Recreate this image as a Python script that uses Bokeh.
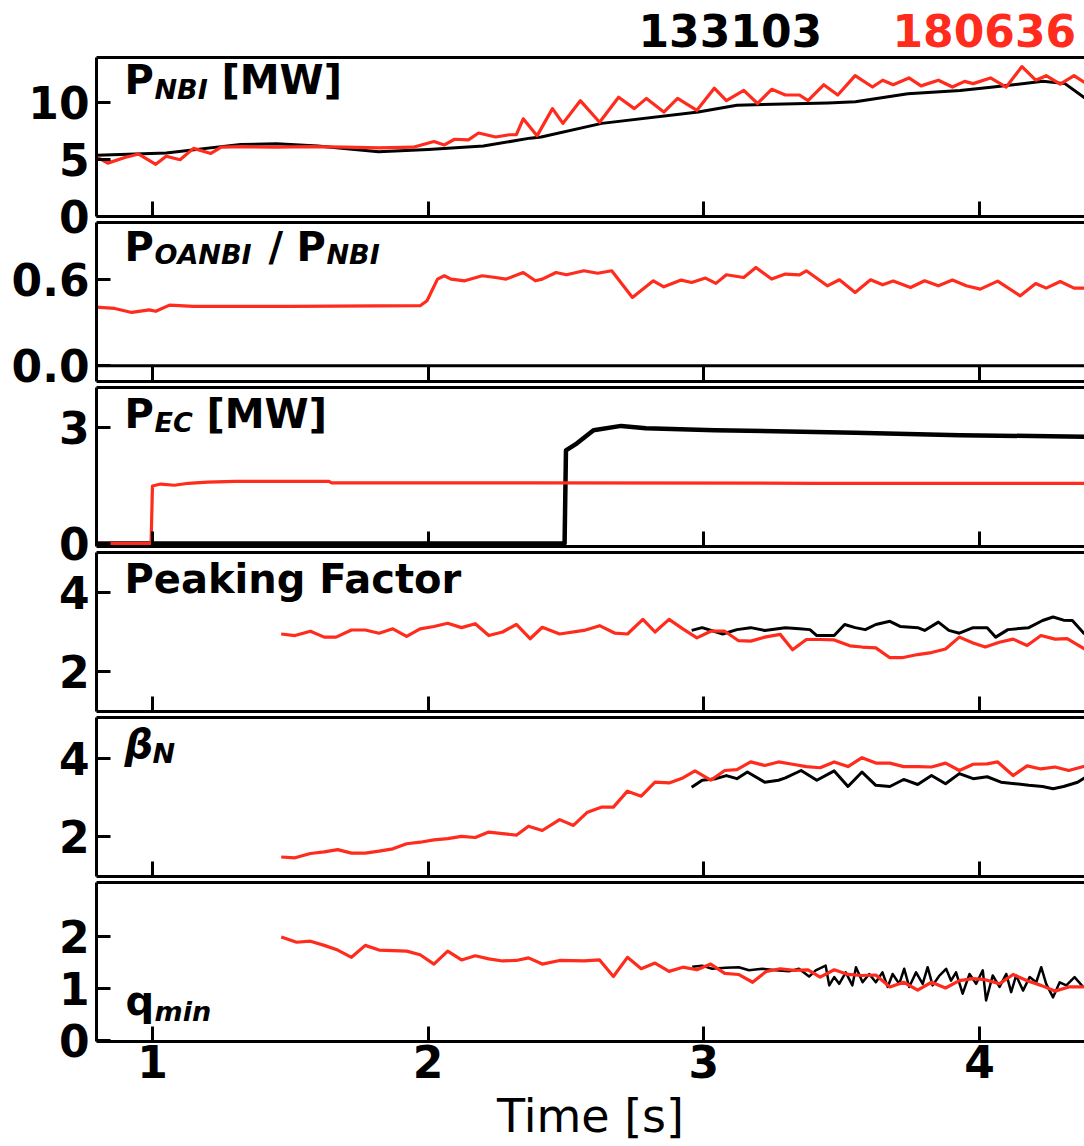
from bokeh.plotting import figure
from bokeh.layouts import column
from bokeh.models import Range1d, LinearAxis, FixedTicker, PrintfTickFormatter, Label, CustomLabelingPolicy
from bokeh.embed import file_html
from bokeh.resources import INLINE

# ---------------- data ----------------
shot_black = "133103"
shot_red = "180636"
x_ticks = [1, 2, 3, 4]

# P_NBI [MW]
nbi_t_133103 = [0.80, 1.05, 1.32, 1.45, 1.60, 1.82, 2.00, 2.20, 2.37, 2.41, 2.63, 2.98, 3.12,
                3.45, 3.55, 3.74, 3.93, 4.05, 4.23, 4.31, 4.39]
nbi_v_133103 = [5.4, 5.6, 6.35, 6.4, 6.2, 5.7, 5.9, 6.2, 6.9, 7.0, 8.2, 9.2, 9.8,
                10.0, 10.1, 10.8, 11.1, 11.4, 11.9, 11.7, 10.3]
nbi_t_180636 = [0.80, 0.838, 0.900, 0.950, 1.012, 1.050, 1.100, 1.149, 1.212, 1.249, 1.324, 1.448,
                1.573, 1.697, 1.822, 1.946, 2.021, 2.059, 2.096, 2.146, 2.183, 2.245, 2.295, 2.320,
                2.345, 2.395, 2.451, 2.489, 2.552, 2.622, 2.691, 2.748, 2.792, 2.855, 2.905, 2.975,
                3.038, 3.082, 3.145, 3.195, 3.246, 3.296, 3.347, 3.378, 3.435, 3.486, 3.549, 3.612,
                3.649, 3.687, 3.744, 3.788, 3.851, 3.902, 3.946, 3.977, 4.040, 4.097, 4.154, 4.204,
                4.242, 4.293, 4.343, 4.381]
nbi_v_180636 = [5.2, 4.7, 5.2, 5.5, 4.6, 5.3, 5.0, 6.0, 5.55, 6.1, 6.15, 6.1,
                6.15, 6.1, 6.05, 6.1, 6.6, 6.3, 6.8, 6.75, 7.35, 7.0, 7.2, 7.2,
                8.6, 7.1, 9.5, 8.2, 10.2, 8.3, 10.5, 9.5, 10.4, 9.2, 10.4, 9.35,
                11.3, 10.2, 11.1, 9.95, 11.2, 10.7, 10.7, 10.2, 11.6, 10.7, 12.4, 11.4,
                12.0, 11.6, 12.2, 11.5, 12.0, 11.4, 11.9, 11.7, 12.2, 11.4, 13.2, 12.0,
                12.4, 11.65, 12.4, 11.8]

# P_OANBI / P_NBI
oa_t_133103 = [0.79, 4.40]
oa_v_133103 = [0.0, 0.0]
oa_t_180636 = [0.79, 0.863, 0.925, 0.988, 1.012, 1.062, 1.149, 1.50, 1.971, 1.996, 2.034, 2.059,
               2.083, 2.133, 2.196, 2.245, 2.283, 2.345, 2.389, 2.414, 2.464, 2.502, 2.565, 2.615,
               2.666, 2.741, 2.817, 2.855, 2.918, 2.956, 3.006, 3.044, 3.082, 3.145, 3.189, 3.246,
               3.296, 3.347, 3.372, 3.448, 3.492, 3.549, 3.605, 3.649, 3.687, 3.750, 3.801, 3.851,
               3.902, 3.952, 4.003, 4.066, 4.148, 4.204, 4.242, 4.293, 4.343, 4.391]
oa_v_180636 = [0.41, 0.40, 0.372, 0.39, 0.38, 0.423, 0.414, 0.414, 0.419, 0.454, 0.605, 0.628,
               0.605, 0.593, 0.628, 0.616, 0.605, 0.651, 0.593, 0.605, 0.651, 0.635, 0.663, 0.646,
               0.663, 0.477, 0.593, 0.551, 0.598, 0.581, 0.612, 0.575, 0.635, 0.616, 0.686, 0.605,
               0.640, 0.635, 0.663, 0.558, 0.600, 0.512, 0.600, 0.565, 0.591, 0.546, 0.593, 0.558,
               0.598, 0.558, 0.535, 0.591, 0.488, 0.574, 0.542, 0.588, 0.542, 0.542]

# P_EC [MW]
ec_t_133103 = [0.79, 2.495, 2.50, 2.54, 2.60, 2.70, 2.79, 3.04, 3.55, 3.93, 4.40]
ec_v_133103 = [0.0, 0.0, 2.40, 2.58, 2.92, 3.03, 2.97, 2.92, 2.85, 2.79, 2.75]
ec_t_180636 = [0.79, 0.995, 1.00, 1.03, 1.08, 1.13, 1.20, 1.30, 1.64, 1.65, 2.40, 3.40, 4.40]
ec_v_180636 = [0.0, 0.0, 1.48, 1.53, 1.50, 1.55, 1.58, 1.60, 1.60, 1.56, 1.56, 1.55, 1.55]

# Peaking factor
pk_t_133103 = [2.956, 2.994, 3.069, 3.120, 3.170, 3.221, 3.296, 3.347, 3.385, 3.410, 3.473, 3.511,
               3.549, 3.586, 3.624, 3.675, 3.712, 3.776, 3.801, 3.851, 3.889, 3.927, 3.977, 4.028,
               4.059, 4.103, 4.179, 4.229, 4.267, 4.305, 4.337, 4.381]
pk_v_133103 = [3.04, 3.11, 2.95, 3.06, 3.11, 3.04, 3.11, 3.08, 3.06, 2.91, 2.91, 3.19,
               3.11, 3.06, 3.19, 3.27, 3.14, 3.11, 3.04, 3.25, 3.04, 2.97, 3.11, 3.11,
               2.87, 3.06, 3.11, 3.29, 3.38, 3.30, 3.29, 2.95]
pk_t_180636 = [1.467, 1.517, 1.573, 1.623, 1.666, 1.722, 1.772, 1.822, 1.872, 1.922, 1.971, 2.021,
               2.071, 2.121, 2.171, 2.220, 2.270, 2.320, 2.370, 2.414, 2.477, 2.565, 2.622, 2.678,
               2.723, 2.779, 2.823, 2.874, 2.924, 2.975, 3.025, 3.076, 3.126, 3.170, 3.221, 3.277,
               3.322, 3.372, 3.422, 3.473, 3.530, 3.574, 3.624, 3.675, 3.719, 3.776, 3.826, 3.877,
               3.927, 3.977, 4.021, 4.072, 4.122, 4.173, 4.223, 4.274, 4.318, 4.391]
pk_v_180636 = [2.95, 2.91, 3.02, 2.87, 2.87, 3.05, 3.05, 2.97, 3.08, 2.89, 3.08, 3.14,
               3.22, 3.11, 3.21, 2.91, 3.00, 3.19, 2.83, 3.12, 2.95, 3.04, 3.16, 2.97,
               2.95, 3.32, 3.00, 3.32, 3.08, 2.85, 3.02, 3.02, 2.78, 2.77, 2.87, 2.94,
               2.55, 2.81, 2.81, 2.80, 2.65, 2.62, 2.60, 2.35, 2.35, 2.43, 2.48, 2.57,
               2.87, 2.72, 2.62, 2.74, 2.82, 2.66, 2.91, 2.82, 2.83, 2.53]

# beta_N
bn_t_133103 = [2.956, 2.994, 3.044, 3.082, 3.120, 3.158, 3.221, 3.271, 3.296, 3.353, 3.410, 3.473,
               3.523, 3.574, 3.624, 3.675, 3.725, 3.776, 3.826, 3.877, 3.927, 3.977, 4.028, 4.078,
               4.129, 4.179, 4.229, 4.267, 4.305, 4.356, 4.391]
bn_v_133103 = [3.26, 3.44, 3.48, 3.56, 3.48, 3.65, 3.39, 3.44, 3.50, 3.69, 3.44, 3.68,
               3.28, 3.65, 3.31, 3.28, 3.46, 3.33, 3.56, 3.35, 3.61, 3.48, 3.53, 3.39,
               3.35, 3.31, 3.28, 3.22, 3.28, 3.39, 3.54]
bn_t_180636 = [1.467, 1.517, 1.573, 1.623, 1.672, 1.722, 1.772, 1.822, 1.872, 1.922, 1.971, 2.021,
               2.071, 2.121, 2.171, 2.220, 2.270, 2.320, 2.364, 2.414, 2.477, 2.527, 2.578, 2.628,
               2.672, 2.723, 2.773, 2.823, 2.874, 2.924, 2.968, 3.025, 3.076, 3.120, 3.170, 3.221,
               3.271, 3.322, 3.372, 3.422, 3.473, 3.523, 3.574, 3.624, 3.675, 3.725, 3.776, 3.826,
               3.877, 3.927, 3.977, 4.028, 4.066, 4.122, 4.173, 4.223, 4.274, 4.324, 4.391]
bn_v_180636 = [1.47, 1.45, 1.56, 1.60, 1.66, 1.57, 1.57, 1.62, 1.68, 1.81, 1.85, 1.91,
               1.94, 2.00, 1.97, 2.11, 2.07, 2.03, 2.26, 2.15, 2.43, 2.28, 2.62, 2.75,
               2.75, 3.16, 3.03, 3.39, 3.37, 3.50, 3.68, 3.44, 3.69, 3.71, 3.91, 3.82,
               3.91, 3.85, 3.79, 3.76, 3.91, 3.79, 4.02, 3.88, 3.88, 3.79, 3.79, 3.78,
               3.88, 3.69, 3.85, 3.86, 3.91, 3.56, 3.81, 3.73, 3.78, 3.69, 3.82]

# q_min
qm_t_133103 = [2.958, 2.994, 3.030, 3.079, 3.127, 3.164, 3.212, 3.261, 3.309, 3.345, 3.382, 3.406,
               3.442, 3.455, 3.473, 3.491, 3.515, 3.539, 3.552, 3.576, 3.600, 3.624, 3.648, 3.667,
               3.685, 3.709, 3.727, 3.745, 3.770, 3.794, 3.812, 3.830, 3.855, 3.879, 3.897, 3.915,
               3.939, 3.964, 3.988, 4.012, 4.024, 4.048, 4.073, 4.097, 4.115, 4.133, 4.158, 4.182,
               4.206, 4.224, 4.242, 4.267, 4.291, 4.315, 4.345, 4.376]
qm_v_133103 = [1.42, 1.44, 1.38, 1.40, 1.41, 1.35, 1.38, 1.35, 1.33, 1.38, 1.23, 1.35,
               1.44, 1.06, 1.22, 1.09, 1.31, 1.06, 1.41, 1.12, 1.28, 1.12, 1.31, 1.03,
               1.28, 1.09, 1.38, 1.03, 1.31, 1.09, 1.41, 1.06, 1.25, 1.38, 1.15, 1.31,
               0.90, 1.28, 1.09, 1.35, 0.77, 1.25, 1.03, 1.28, 0.93, 1.25, 0.96, 1.22,
               1.12, 1.41, 1.09, 0.83, 1.12, 1.06, 1.22, 1.03]
qm_t_180636 = [1.467, 1.523, 1.573, 1.623, 1.672, 1.722, 1.772, 1.822, 1.872, 1.922, 1.971, 2.021,
               2.071, 2.121, 2.171, 2.220, 2.270, 2.320, 2.364, 2.414, 2.477, 2.565, 2.622, 2.672,
               2.723, 2.773, 2.823, 2.874, 2.924, 2.975, 3.025, 3.076, 3.126, 3.177, 3.227, 3.277,
               3.328, 3.378, 3.422, 3.473, 3.523, 3.574, 3.624, 3.675, 3.725, 3.776, 3.826, 3.877,
               3.927, 3.977, 4.021, 4.072, 4.122, 4.173, 4.223, 4.274, 4.324, 4.391]
qm_v_180636 = [1.99, 1.89, 1.91, 1.83, 1.74, 1.60, 1.83, 1.74, 1.73, 1.72, 1.65, 1.47,
               1.72, 1.55, 1.63, 1.57, 1.53, 1.54, 1.59, 1.47, 1.54, 1.53, 1.55, 1.23,
               1.60, 1.38, 1.49, 1.33, 1.41, 1.36, 1.47, 1.29, 1.27, 1.12, 1.33, 1.38,
               1.35, 1.36, 1.22, 1.36, 1.27, 1.25, 1.26, 1.03, 1.12, 0.97, 1.12, 1.01,
               1.15, 1.19, 1.17, 1.09, 1.27, 1.15, 1.06, 0.95, 1.03, 1.03]

# ---------------- styling / layout ----------------
RED = "#ff2b1c"
BLACK = "#000000"
FONT = "DejaVu Sans"
X0, X1 = 0.797, 4.381
FW, FH = 988, 159
LEFT = 96
PAD = 32          # transparent border around each frame, so edge tick labels are not cut
GAP = 6           # visible gap between neighbouring frames
HDR_H = 57
BASE_FIX = 0.35   # measured baseline correction of Label text (fraction of font size)

xr = Range1d(X0, X1)
no_labels = CustomLabelingPolicy(code="return new Set()")


def style_axis(ax, tick_in):
    ax.axis_line_width = 3
    ax.axis_line_color = BLACK
    ax.major_tick_in = tick_in
    ax.major_tick_out = 0
    ax.major_tick_line_width = 3
    ax.major_tick_line_color = BLACK
    ax.minor_tick_line_color = None
    ax.major_label_text_font = FONT
    ax.major_label_text_font_style = "bold"
    ax.major_label_text_color = BLACK


def make_panel(ystart, yend, yticks, fmt, first=False, last=False):
    p = figure(x_range=xr, y_range=Range1d(ystart, yend), frame_width=FW, frame_height=FH,
               output_backend="svg", toolbar_location=None,
               x_axis_location=None, y_axis_location=None,
               min_border_left=LEFT, min_border_right=0, min_border_top=PAD,
               min_border_bottom=0 if last else PAD)
    p.grid.visible = False
    p.outline_line_color = None
    p.background_fill_color = None
    p.border_fill_color = None
    p.styles = {"margin-top": f"-{PAD}px" if first else f"-{2 * PAD - GAP}px"}

    ya = LinearAxis(ticker=FixedTicker(ticks=yticks), formatter=PrintfTickFormatter(format=fmt))
    style_axis(ya, 14)
    ya.major_label_text_font_size = "44px"
    ya.major_label_standoff = 7
    p.add_layout(ya, "left")

    xa = LinearAxis(ticker=FixedTicker(ticks=x_ticks), formatter=PrintfTickFormatter(format="%d"))
    style_axis(xa, 15)
    if last:
        xa.major_label_text_font_size = "44px"
        xa.major_label_standoff = 3
        xa.axis_label = "Time [s]"
        xa.axis_label_text_font = FONT
        xa.axis_label_text_font_style = "normal"
        xa.axis_label_text_font_size = "46px"
        xa.axis_label_text_color = BLACK
        xa.axis_label_standoff = 8
    else:
        xa.major_label_text_font_size = "1px"
        xa.major_label_standoff = 0
        xa.major_label_policy = no_labels
    p.add_layout(xa, "below")

    ta = LinearAxis(ticker=FixedTicker(ticks=[]))
    style_axis(ta, 0)
    ta.major_label_text_font_size = "1px"
    ta.major_label_standoff = 0
    ta.major_label_policy = no_labels
    p.add_layout(ta, "above")
    return p


def add_text(p, text, dx, dy, size, style, color=BLACK, fh=FH):
    xs, xe = p.x_range.start, p.x_range.end
    ys, ye = p.y_range.start, p.y_range.end
    x = xs + dx / FW * (xe - xs)
    y = ye - (dy - BASE_FIX * size) / fh * (ye - ys)
    p.add_layout(Label(x=x, y=y, text=text, text_font=FONT, text_font_size=f"{size}px",
                       text_font_style=style, text_color=color,
                       text_baseline="alphabetic", text_align="left"))


def lines(p, tb, vb, tr, vr, wb=3, wr=3.2):
    p.line(tb, vb, line_color=BLACK, line_width=wb, line_join="round")
    p.line(tr, vr, line_color=RED, line_width=wr, line_join="round")


# header with shot numbers
hdr = figure(x_range=xr, y_range=Range1d(0, 1), frame_width=FW, frame_height=HDR_H,
             output_backend="svg", toolbar_location=None,
             x_axis_location=None, y_axis_location=None,
             min_border_left=LEFT, min_border_right=0, min_border_top=0, min_border_bottom=0)
hdr.grid.visible = False
hdr.outline_line_color = None
hdr.background_fill_color = None
hdr.border_fill_color = None
add_text(hdr, shot_black, 542, 45, 44, "bold", BLACK, fh=HDR_H)
add_text(hdr, shot_red, 796, 45, 44, "bold", RED, fh=HDR_H)

# panel 1: P_NBI
p1 = make_panel(0.0, 14.0, [0, 5, 10], "%d", first=True)
lines(p1, nbi_t_133103, nbi_v_133103, nbi_t_180636, nbi_v_180636)
add_text(p1, "P", 28, 36, 40, "bold")
add_text(p1, "NBI", 58, 41, 27, "bold italic")
add_text(p1, "[MW]", 125, 36, 40, "bold")

# panel 2: P_OANBI / P_NBI
p2 = make_panel(-0.11, 1.0, [0, 0.6], "%.1f")
lines(p2, oa_t_133103, oa_v_133103, oa_t_180636, oa_v_180636)
add_text(p2, "P", 28, 38, 40, "bold")
add_text(p2, "OANBI", 58, 41, 27, "bold italic")
add_text(p2, "/", 172, 38, 40, "bold")
add_text(p2, "P", 200, 38, 40, "bold")
add_text(p2, "NBI", 230, 41, 27, "bold italic")

# panel 3: P_EC
p3 = make_panel(-0.08, 4.02, [0, 3], "%d")
lines(p3, ec_t_133103, ec_v_133103, ec_t_180636, ec_v_180636, wb=4.5)
add_text(p3, "P", 28, 40, 40, "bold")
add_text(p3, "EC", 58, 44, 27, "bold italic")
add_text(p3, "[MW]", 110, 40, 40, "bold")

# panel 4: peaking factor
p4 = make_panel(0.99, 5.01, [2, 4], "%d")
lines(p4, pk_t_133103, pk_v_133103, pk_t_180636, pk_v_180636)
add_text(p4, "Peaking Factor", 28, 40, 40, "bold")

# panel 5: beta_N
p5 = make_panel(0.97, 5.05, [2, 4], "%d")
lines(p5, bn_t_133103, bn_v_133103, bn_t_180636, bn_v_180636)
add_text(p5, "β", 28, 40, 40, "bold italic")
add_text(p5, "N", 56, 45, 27, "bold italic")

# panel 6: q_min
p6 = make_panel(-0.02, 3.04, [0, 1, 2], "%d", last=True)
lines(p6, qm_t_133103, qm_v_133103, qm_t_180636, qm_v_180636, wb=2.5)
add_text(p6, "q", 29, 132, 40, "bold")
add_text(p6, "min", 58, 138, 27, "bold italic")

layout = column(hdr, p1, p2, p3, p4, p5, p6, spacing=0)

open("out.html", "w").write(file_html(layout, INLINE, title="Shot comparison"))
